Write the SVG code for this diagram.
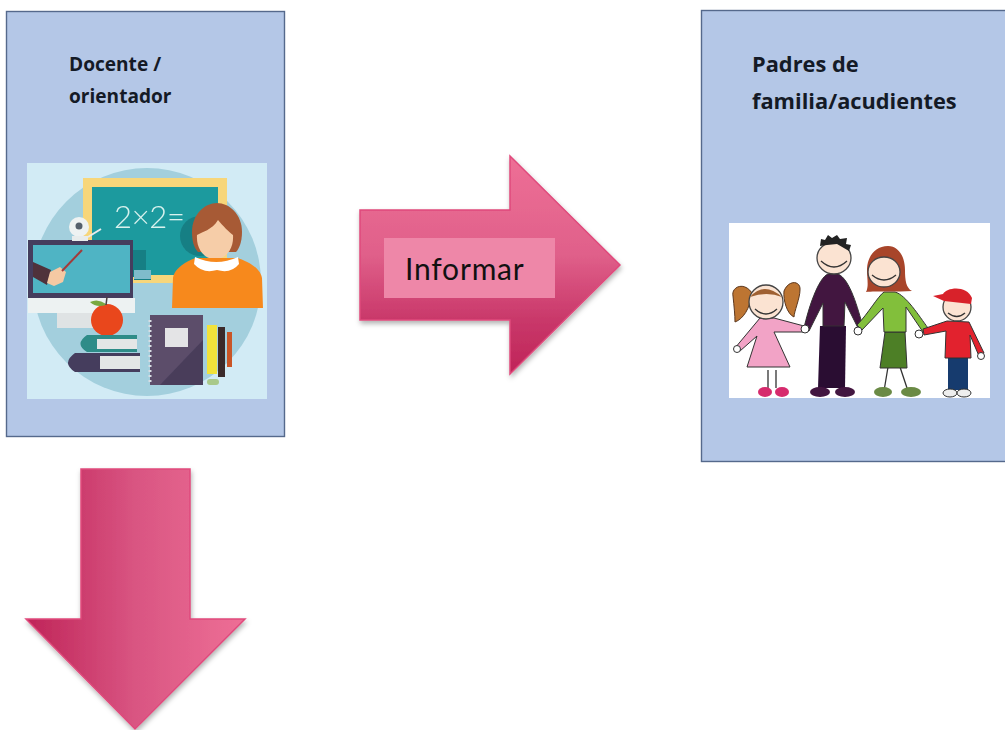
<svg xmlns="http://www.w3.org/2000/svg" width="1005" height="730" viewBox="0 0 1005 730">
<style>
.panel{fill:#b4c7e7;stroke:#55698c;stroke-width:1.4}
.head{font-family:"Open Sans","Liberation Sans",sans-serif;font-weight:bold;fill:#141a26}
.ar{stroke:#e04a7c;stroke-width:1.5;stroke-linejoin:miter}
.ln{fill:none;stroke:#333;stroke-width:1.3}
.ol{stroke:#333;stroke-width:1}
.skin{fill:#fbe3d2;stroke:#444;stroke-width:1.3}
</style>
<defs>
<linearGradient id="gv" x1="0" y1="0" x2="0" y2="1"><stop offset="0" stop-color="#ee6f96"/><stop offset=".45" stop-color="#e0608a"/><stop offset=".75" stop-color="#c9386a"/><stop offset="1" stop-color="#bf2458"/></linearGradient>
<linearGradient id="gh" x1="0" y1="0" x2="1" y2="0"><stop offset="0" stop-color="#bf2458"/><stop offset=".5" stop-color="#d95582"/><stop offset="1" stop-color="#ee6f96"/></linearGradient>
<filter id="sh" x="-10%" y="-10%" width="125%" height="125%"><feDropShadow dx="1" dy="3" stdDeviation="2.500" flood-color="#000" flood-opacity=".3"/></filter>
<filter id="bl" x="0" y="0" width="100%" height="100%"><feGaussianBlur stdDeviation=".6"/></filter>
</defs>
<rect width="1005" height="730" fill="#fff"/>
<g id="docente">
<rect class="panel" x="6.500" y="11.500" width="278" height="425"/>
<text class="head" style="font-size:19.100px" x="69" y="71">Docente /</text>
<text class="head" style="font-size:19.100px" x="69" y="103">orientador</text>
<g id="docente-picture" filter="url(#bl)">
<rect x="27" y="163" width="240" height="236" fill="#d2ebf5"/>
<circle cx="147" cy="282" r="114" fill="#a3cfdd"/>
<rect x="83" y="178" width="144" height="105" fill="#f7d67a"/>
<rect x="92" y="187" width="126" height="88" fill="#1f9a9e"/>
<path d="M133 250h13v27h-13zM134 272h17v8h-17z" fill="#187f84"/>
<rect x="134" y="270" width="17" height="9" fill="#7fbccb"/>
<text x="114" y="228" font-family="Lato,'Liberation Sans',sans-serif" font-weight="300" font-size="31" fill="#d8f2ee" textLength="71">2×2=</text>
<circle cx="200" cy="236" r="20" fill="#187f84"/>
<path d="M192 232c0-18 13-29 25-29s25 11 25 29c0 10-3 17-6 20h-38c-4-4-6-11-6-20z" fill="#a75a35"/>
<path d="M197 235c5-3 15-5 21-15 5 6 11 12 15 15 1 14-7 24-18 24s-19-10-18-24z" fill="#f6cda8"/>
<path d="M172 308l1-30c2-12 18-18 22-20h43c5 2 22 8 24 20l1 30z" fill="#f7891f"/>
<path d="M195 257q21 10 43 0l1 7q-8 10-22 6q-14 4-23-6z" fill="#fff"/>
<rect x="28" y="240" width="105" height="58" fill="#453c5d"/>
<rect x="33" y="245" width="97" height="48" fill="#4fb4c4"/>
<path d="M33 262l18 8-4 15-14-8z" fill="#50303a"/><path d="M50 272l10-5 6 5-3 10-9 4-7-3z" fill="#f5c9a3"/>
<path d="M62 271l20-21" stroke="#a33a3a" stroke-width="2"/>
<rect x="28" y="298" width="107" height="15" fill="#edf2f2"/>
<rect x="57" y="313" width="37" height="15" fill="#dfe3e4"/>
<circle cx="79" cy="227" r="10" fill="#eef2f2"/><circle cx="79" cy="226" r="3.500" fill="#54606c"/>
<rect x="72" y="236" width="16" height="5" fill="#e8ecec"/>
<path d="M88 237l13-8" stroke="#e8ecec" stroke-width="2"/>
<ellipse cx="107" cy="320" rx="16" ry="16" fill="#e9461d"/>
<path d="M106 304q-8-6-16-2q6 6 16 3z" fill="#79a83f"/><path d="M106 305l1-8" stroke="#4c4040" stroke-width="1.500"/>
<path d="M87 335h50v4H97v10h40v3H87q-13-8 0-17z" fill="#2d8c88"/><rect x="97" y="339" width="40" height="10" fill="#e4e6e6"/>
<path d="M75 353h65v3H100v13h40v3H75q-14-9 0-19z" fill="#453c5d"/><rect x="100" y="356" width="40" height="13" fill="#e4e6e6"/>
<rect x="150" y="315" width="53" height="70" fill="#5b4d6b"/>
<path d="M160 385l43-45v45z" fill="#4a3e5a"/>
<path d="M150 320v62" stroke="#d8dde4" stroke-width="3" stroke-dasharray="2 3"/>
<rect x="165" y="328" width="23" height="19" fill="#e4e4e6"/>
<rect x="207" y="325" width="10" height="49" fill="#f1e23a"/>
<rect x="218" y="327" width="7" height="50" fill="#3b2b2b"/>
<rect x="227" y="332" width="5" height="35" fill="#c95525"/>
<rect x="207" y="379" width="12" height="6" rx="3" fill="#a9c98a"/>
</g>
</g>
<g id="padres">
<rect class="panel" x="701.500" y="10.500" width="310" height="451"/>
<text class="head" style="font-size:21.800px" x="752" y="72">Padres de</text>
<text class="head" style="font-size:21.800px" x="752" y="109">familia/acudientes</text>
<g id="padres-picture" filter="url(#bl)">
<rect x="729" y="223" width="261" height="175" fill="#fff"/>
<path d="M768 370v18M776 370v18" class="ln"/>
<ellipse cx="765" cy="392" rx="7" ry="5" fill="#d62b6d"/><ellipse cx="782" cy="392" rx="7" ry="5" fill="#d62b6d"/>
<path d="M760 318l-25 30 5 3 17-15-10 31h43l-16-35 29 0 1-6-30-8z" fill="#f2a3c6" class="ol"/>
<path d="M752 293c-8-12-21-6-19 3 1 10 2 19 2 26 8-3 15-13 17-29zM784 291c5-12 17-10 16-1 0 8-6 22-6 27-7-3-11-17-10-26z" fill="#bd7430" stroke="#5b3820"/>
<circle cx="766" cy="302" r="17" class="skin"/>
<path d="M750 297q14-16 32 0-15-6-32 0z" fill="#9f6030"/>
<path d="M755 309q11 10 22 0" class="ln"/>
<path d="M820 326h26l-1 62h-27z" fill="#2a0a33"/>
<ellipse cx="820" cy="392" rx="10" ry="5" fill="#43143f"/><ellipse cx="845" cy="392" rx="10" ry="5" fill="#43143f"/>
<path d="M828 274c-10 4-20 36-24 54l5 3 14-28 0 23h21l1-24 14 28 4-3c-5-18-13-48-25-53z" fill="#43143f" class="ol"/>
<ellipse cx="834" cy="258" rx="17" ry="16" class="skin"/>
<path d="M820 246l1-7 4 1 3-5 4 3 5-3 3 4 7-1-1 6 5 1-2 6-12-7-10 1z" fill="#222"/>
<path d="M821 261q13 12 26 0" class="ln" stroke-width="2"/>
<path d="M888 367l-4 24M900 367l8 24" class="ln"/>
<ellipse cx="883" cy="392" rx="9" ry="5" fill="#6a8a45"/><ellipse cx="911" cy="392" rx="10" ry="5" fill="#6a8a45"/>
<path d="M885 332h20l2 36h-27z" fill="#4d7f26" class="ol"/>
<path d="M884 292c-6 4-16 22-27 33l5 5 21-22 1 24h22v-25l17 25 5-4c-9-12-22-33-33-36z" fill="#82bf3b" class="ol"/>
<path d="M888 246c-14 0-21 12-21 24 0 9 2 16-1 22 10-1 32 0 46-1-6-3-7-11-7-21 0-14-7-24-17-24z" fill="#a8442a"/>
<ellipse cx="884" cy="272" rx="16" ry="15" class="skin"/>
<path d="M872 275q12 10 24 0" class="ln"/>
<rect x="948" y="358" width="20" height="32" fill="#153a6e"/>
<ellipse cx="950" cy="393" rx="7" ry="4" fill="#eee" class="ol"/><ellipse cx="964" cy="393" rx="7" ry="4" fill="#eee" class="ol"/>
<path d="M947 321l-24 8 1 6 22-4-1 27h26l-1-23 9 21 5-3-15-31z" fill="#e2242d" class="ol"/>
<circle cx="957" cy="307" r="14" class="skin"/>
<path d="M933 296l10-2c4-7 24-9 29 4l-1 6-27-3z" fill="#d8232c"/>
<path d="M948 313q9 7 17 0" class="ln"/>
<circle cx="805" cy="329" r="4" fill="#fff" class="ol"/><circle cx="858" cy="331" r="4" fill="#fff" class="ol"/><circle cx="919" cy="334" r="4" fill="#fff" class="ol"/>
<circle cx="737" cy="349" r="3.500" fill="#fff" class="ol"/><circle cx="981" cy="356" r="3.500" fill="#fff" class="ol"/>
</g>
</g>
<g id="connectors">
<g id="arrow-informar">
<path class="ar" fill="url(#gv)" filter="url(#sh)" d="M360 210H510V156L620 265 510 374V320H360Z"/>
<rect x="384" y="238" width="171" height="60" fill="#ee87a8"/>
<text x="405" y="280" font-family="Lato,'Open Sans',sans-serif" font-size="30" letter-spacing=".8" fill="#111">Informar</text>
</g>
<g id="arrow-down">
<path class="ar" fill="url(#gh)" filter="url(#sh)" d="M81 469H190V619H245L135 729 26 619H81Z"/>
</g>
</g>
</svg>
